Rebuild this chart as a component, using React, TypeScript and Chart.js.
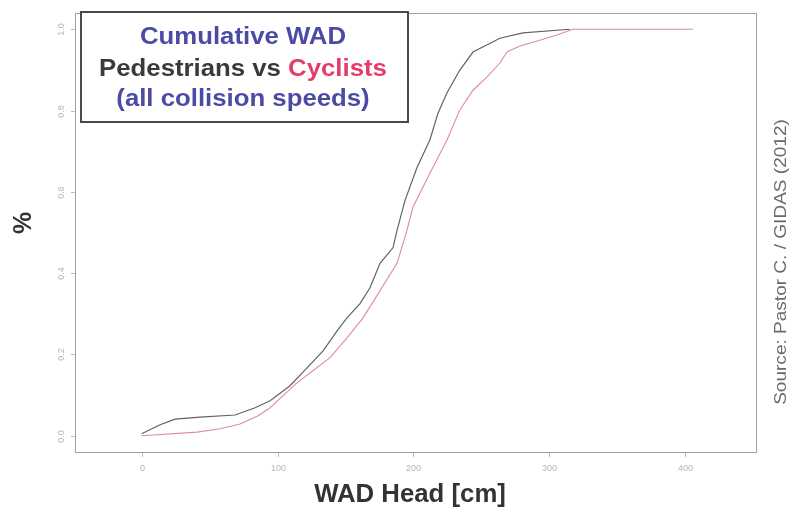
import React, { useEffect, useRef } from "react";
import { Chart, registerables } from "chart.js";

Chart.register(...registerables);

// Pedestrians (dark curve): WAD head [cm] vs cumulative share
const pedX = [0, 13.6, 24.6, 43, 68.8, 83.5, 94.5, 109.2, 121.7, 133.5, 143.8, 151.1, 160.7, 168, 175.4, 185, 187.9, 193.8, 202.6, 212, 218, 224.6, 234, 243.8, 263.6, 280.5, 315];
const pedY = [0.005, 0.027, 0.041, 0.046, 0.051, 0.069, 0.086, 0.123, 0.167, 0.209, 0.258, 0.29, 0.325, 0.364, 0.424, 0.463, 0.505, 0.579, 0.66, 0.727, 0.793, 0.843, 0.899, 0.944, 0.978, 0.991, 1.0];

// Cyclists (red curve)
const cycX = [0, 40.8, 57.7, 72.4, 85.7, 94.5, 105.5, 114.3, 126, 138.6, 151.1, 162.9, 175.4, 187.9, 195.2, 199.6, 212, 224.6, 234, 243.8, 254, 263.6, 268.8, 278.3, 293, 305.5, 317.3, 405.5];
const cycY = [0, 0.009, 0.017, 0.029, 0.049, 0.069, 0.103, 0.13, 0.16, 0.192, 0.241, 0.29, 0.357, 0.424, 0.505, 0.562, 0.645, 0.727, 0.801, 0.85, 0.882, 0.917, 0.944, 0.959, 0.973, 0.986, 1.0, 1.0];

const xTicks = [0, 100, 200, 300, 400];
const xTickLabels = ["0", "100", "200", "300", "400"];
const yTicks = [0, 0.2, 0.4, 0.6, 0.8, 1.0];
const yTickLabels = ["0.0", "0.2", "0.4", "0.6", "0.8", "1.0"];

const titleLines = ["Cumulative WAD", "Pedestrians vs ", "Cyclists", "(all collision speeds)"];
const xAxisTitle = "WAD Head [cm]";
const yAxisTitle = "%";
const sourceText = "Source: Pastor C. / GIDAS (2012)";

const FONT = "'Liberation Sans', Arial, sans-serif";

function stretchText(ctx: CanvasRenderingContext2D, text: string, x: number, y: number, sx: number, align: CanvasTextAlign) {
  ctx.save();
  ctx.translate(x, y);
  ctx.scale(sx, 1);
  ctx.textAlign = align;
  ctx.fillText(text, 0, 0);
  ctx.restore();
}

const deco = {
  id: "deco",
  afterDatasetsDraw(chart: any) {
    const { ctx, chartArea: a, scales } = chart;
    const xs = scales.x;
    const ys = scales.y;
    ctx.save();
    // plot frame
    ctx.strokeStyle = "#a0a0a0";
    ctx.lineWidth = 1;
    ctx.strokeRect(a.left + 0.5, a.top + 0.5, a.right - a.left, a.bottom - a.top);

    // x ticks
    ctx.strokeStyle = "#b8b8b8";
    ctx.fillStyle = "#b5b5b5";
    ctx.font = `9px ${FONT}`;
    ctx.textBaseline = "middle";
    xTicks.forEach((v, i) => {
      const px = Math.round(xs.getPixelForValue(v)) + 0.5;
      ctx.beginPath();
      ctx.moveTo(px, a.bottom + 1);
      ctx.lineTo(px, a.bottom + 5);
      ctx.stroke();
      ctx.textAlign = "center";
      ctx.fillText(xTickLabels[i], px, a.bottom + 17);
    });

    // y ticks (rotated labels, R style)
    yTicks.forEach((v, i) => {
      const py = Math.round(ys.getPixelForValue(v)) + 0.5;
      ctx.beginPath();
      ctx.moveTo(a.left - 4, py);
      ctx.lineTo(a.left, py);
      ctx.stroke();
      ctx.save();
      ctx.translate(a.left - 13, py);
      ctx.rotate(-Math.PI / 2);
      ctx.textAlign = "center";
      ctx.fillText(yTickLabels[i], 0, 0);
      ctx.restore();
    });

    // legend/title box
    const bx = 81, by = 12, bw = 327, bh = 110;
    ctx.fillStyle = "#ffffff";
    ctx.fillRect(bx, by, bw, bh);
    ctx.strokeStyle = "#4a4a4a";
    ctx.lineWidth = 2;
    ctx.strokeRect(bx, by, bw, bh);

    const cx = 243;
    const sx = 1.12;
    ctx.font = `bold 23px ${FONT}`;
    ctx.textBaseline = "alphabetic";
    ctx.fillStyle = "#4b4ba6";
    stretchText(ctx, titleLines[0], cx, 44, sx, "center");
    const w1 = ctx.measureText(titleLines[1]).width * sx;
    const w2 = ctx.measureText(titleLines[2]).width * sx;
    const start = cx - (w1 + w2) / 2;
    ctx.fillStyle = "#3a3a3a";
    stretchText(ctx, titleLines[1], start, 76, sx, "left");
    ctx.fillStyle = "#e63c6a";
    stretchText(ctx, titleLines[2], start + w1, 76, sx, "left");
    ctx.fillStyle = "#4b4ba6";
    stretchText(ctx, titleLines[3], cx, 106, sx, "center");

    // x axis title
    ctx.fillStyle = "#333333";
    ctx.font = `bold 25px ${FONT}`;
    stretchText(ctx, xAxisTitle, 410, 502, 1.03, "center");

    // y axis title
    ctx.save();
    ctx.translate(31, 223);
    ctx.rotate(-Math.PI / 2);
    ctx.font = `bold 25px ${FONT}`;
    ctx.textAlign = "center";
    ctx.fillText(yAxisTitle, 0, 0);
    ctx.restore();

    // source
    ctx.save();
    ctx.translate(781, 262);
    ctx.rotate(-Math.PI / 2);
    ctx.scale(1.12, 1);
    ctx.font = `17px ${FONT}`;
    ctx.fillStyle = "#6a6a6a";
    ctx.textAlign = "center";
    ctx.textBaseline = "middle";
    ctx.fillText(sourceText, 0, 0);
    ctx.restore();

    ctx.restore();
  },
};

export default function App() {
  const ref = useRef<HTMLCanvasElement | null>(null);
  useEffect(() => {
    if (!ref.current) return;
    const chart = new Chart(ref.current, {
      type: "scatter",
      data: {
        datasets: [
          {
            label: "Pedestrians",
            data: pedX.map((x, i) => ({ x, y: pedY[i] })),
            showLine: true,
            borderColor: "rgba(70,70,70,0.85)",
            borderWidth: 1.2,
            pointRadius: 0,
            tension: 0,
          },
          {
            label: "Cyclists",
            data: cycX.map((x, i) => ({ x, y: cycY[i] })),
            showLine: true,
            borderColor: "rgba(215,120,145,0.85)",
            borderWidth: 1.1,
            pointRadius: 0,
            tension: 0,
          },
        ],
      },
      options: {
        responsive: false,
        animation: false,
        layout: { padding: { left: 75, right: 39, top: 13, bottom: 56 } },
        plugins: { legend: { display: false }, tooltip: { enabled: false } },
        scales: {
          x: { type: "linear", min: -49, max: 452, display: false },
          y: { type: "linear", min: -0.04, max: 1.04, display: false },
        },
      },
      plugins: [deco],
    });
    return () => chart.destroy();
  }, []);
  return (
    <div style={{ position: "fixed", left: 0, top: 0, width: 795, height: 508, background: "#fff" }}>
      <canvas ref={ref} width={795} height={508} />
    </div>
  );
}
